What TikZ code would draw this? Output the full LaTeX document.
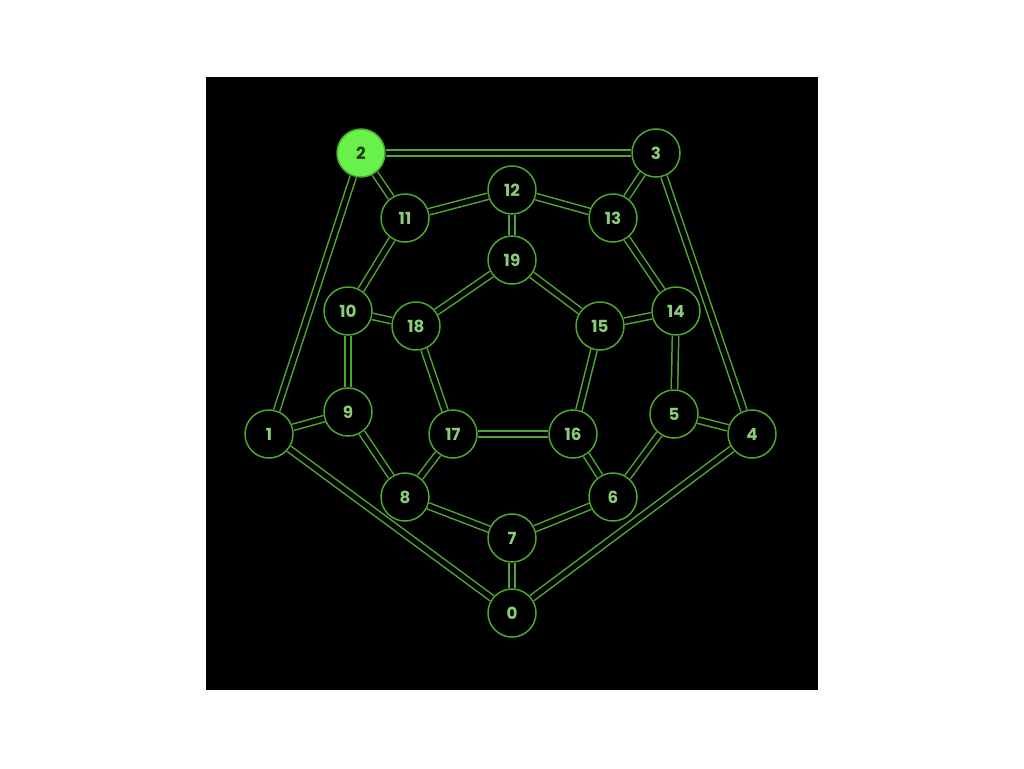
\documentclass[tikz,border=0pt]{standalone}
\usepackage{fontspec}
\setmainfont{Poppins}
\definecolor{edgegreen}{HTML}{4DAA2E}
\definecolor{txtgreen}{HTML}{8ACC78}
\definecolor{hotgreen}{HTML}{6AF04A}
\definecolor{darktxt}{HTML}{1E3A14}
\begin{document}
\begin{tikzpicture}[x=0.02cm,y=-0.02cm,
  vtx/.style={circle, draw=edgegreen, line width=0.85pt, fill=black, minimum size=0.96cm, inner sep=0pt,
    text=txtgreen, font=\fontsize{9.5}{11}\selectfont\bfseries},
  hot/.style={fill=hotgreen, text=darktxt},
  link/.style={draw=edgegreen, line width=0.85pt, double=black, double distance=2.8pt}]
\useasboundingbox (0,0) rectangle (1024,768);
\fill[white] (0,0) rectangle (1024,768);
\fill[black] (206,77) rectangle (818,690);
\node[vtx] (n0) at (512,613) {0};
\node[vtx] (n1) at (269,434) {1};
\node[vtx,hot] (n2) at (361,153) {2};
\node[vtx] (n3) at (656,153) {3};
\node[vtx] (n4) at (752,434) {4};
\node[vtx] (n5) at (674,414) {5};
\node[vtx] (n6) at (613,497) {6};
\node[vtx] (n7) at (512,538) {7};
\node[vtx] (n8) at (405,497) {8};
\node[vtx] (n9) at (348,412) {9};
\node[vtx] (n10) at (348,311) {10};
\node[vtx] (n11) at (405,218) {11};
\node[vtx] (n12) at (512,190) {12};
\node[vtx] (n13) at (613,218) {13};
\node[vtx] (n14) at (676,311) {14};
\node[vtx] (n15) at (600,326) {15};
\node[vtx] (n16) at (573,434) {16};
\node[vtx] (n17) at (453,434) {17};
\node[vtx] (n18) at (416,326) {18};
\node[vtx] (n19) at (512,260) {19};
\foreach \a/\b in {0/1,0/4,0/7,1/2,1/9,2/3,2/11,3/4,3/13,4/5,5/6,5/14,6/7,6/16,7/8,8/9,8/17,9/10,10/11,10/18,11/12,12/13,12/19,13/14,14/15,15/16,15/19,16/17,17/18,18/19}
  \draw[link] (n\a) -- (n\b);
\end{tikzpicture}
\end{document}
